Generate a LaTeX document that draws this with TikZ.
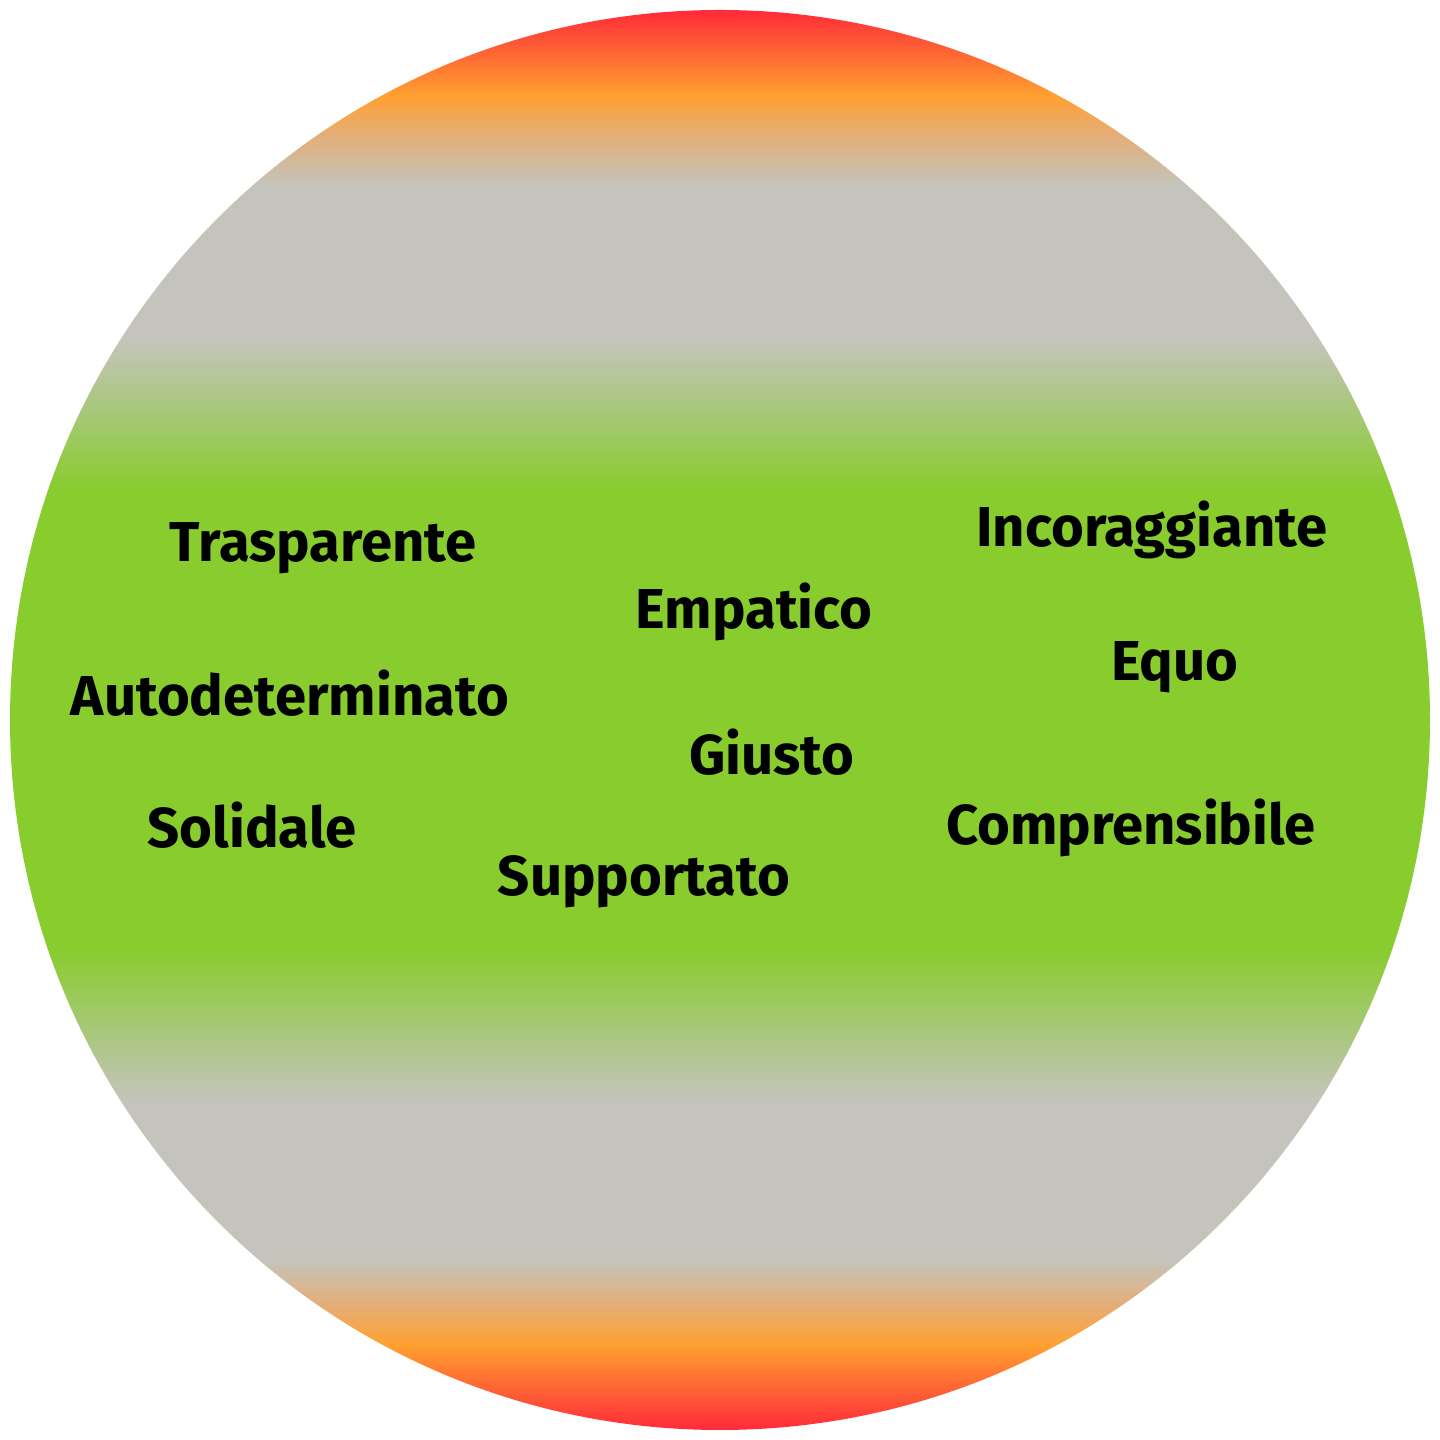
\documentclass[tikz,border=0pt]{standalone}
\usepackage{fontspec}
\setmainfont{Fira Sans}
\usetikzlibrary{positioning}
\definecolor{topred}{HTML}{FF2A3A}
\definecolor{warmorange}{HTML}{FFA030}
\definecolor{tan}{HTML}{E0B080}
\definecolor{mist}{HTML}{C4C4BC}
\definecolor{leaf}{HTML}{88CC2E}
\pgfdeclareverticalshading{bands}{100bp}{color(0bp)=(topred); color(25bp)=(topred); color(28bp)=(warmorange); color(29.6bp)=(tan); color(31bp)=(mist); color(36.6bp)=(mist); color(41.9bp)=(leaf); color(58.1bp)=(leaf); color(63.4bp)=(mist); color(68.8bp)=(mist); color(70.4bp)=(tan); color(72bp)=(warmorange); color(75bp)=(topred); color(100bp)=(topred)}
\tikzset{word/.style={font=\bfseries\fontsize{16}{18}\selectfont, text=black}}
\begin{document}
\begin{tikzpicture}
\useasboundingbox (0,0) rectangle (14.4,14.4);
\shade[shading=bands] (7.2,7.2) circle (7.1);
\node[word] (trasparente) at (3.23,8.92) {Trasparente};
\node[word] (empatico) at (7.54,8.28) {Empatico};
\node[word] (incoraggiante) at (11.52,9.10) {Incoraggiante};
\node[word] (autodeterminato) at (2.90,7.47) {Autodeterminato};
\node[word] (equo) at (11.75,7.73) {Equo};
\node[word] (giusto) at (7.72,6.88) {Giusto};
\node[word] (solidale) at (2.52,6.15) {Solidale};
\node[word] (comprensibile) at (11.31,6.12) {Comprensibile};
\node[word] (supportato) at (6.44,5.58) {Supportato};
\end{tikzpicture}
\end{document}
